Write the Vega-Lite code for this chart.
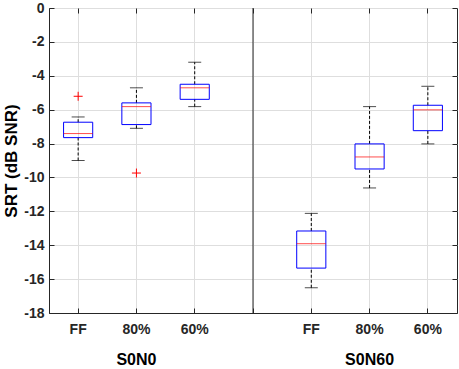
{
  "$schema": "https://vega.github.io/schema/vega-lite/v6.json",
  "autosize": {"type": "none"},
  "padding": {"left": 49, "top": 8, "right": 2, "bottom": 57},
  "width": 408,
  "height": 305,
  "background": "white",
  "config": {
    "view": {"stroke": "#262626", "strokeWidth": 1},
    "font": "Liberation Sans",
    "axis": {"labelFont": "Liberation Sans", "titleFont": "Liberation Sans", "labelColor": "#262626", "titleColor": "#000000", "domainColor": "#262626", "tickColor": "#262626", "gridColor": "#dedede", "gridOpacity": 1}
  },
  "datasets": {
    "stats": [
      {"key": "S0N0 FF", "lo": -9.0, "q1": -7.65, "med": -7.41, "q3": -6.74, "hi": -6.43},
      {"key": "S0N0 80%", "lo": -7.10, "q1": -6.88, "med": -5.82, "q3": -5.60, "hi": -4.71},
      {"key": "S0N0 60%", "lo": -5.82, "q1": -5.39, "med": -4.71, "q3": -4.50, "hi": -3.20},
      {"key": "S0N60 FF", "lo": -16.51, "q1": -15.35, "med": -13.91, "q3": -13.16, "hi": -12.12},
      {"key": "S0N60 80%", "lo": -10.62, "q1": -9.50, "med": -8.79, "q3": -8.02, "hi": -5.82},
      {"key": "S0N60 60%", "lo": -8.02, "q1": -7.24, "med": -6.01, "q3": -5.74, "hi": -4.62}
    ],
    "outliers": [
      {"key": "S0N0 FF", "v": -5.21},
      {"key": "S0N0 80%", "v": -9.74}
    ],
    "divider": [{"key": "gap"}]
  },
  "resolve": {"axis": {"x": "independent", "y": "independent"}},
  "layer": [
    {
      "data": {"name": "stats"},
      "mark": {"type": "rule", "color": "#000000", "strokeDash": [3, 2], "strokeWidth": 1},
      "encoding": {
        "x": {"field": "key", "type": "nominal", "bandPosition": 0.5,
          "scale": {"type": "band", "domain": ["S0N0 FF", "S0N0 80%", "S0N0 60%", "gap", "S0N60 FF", "S0N60 80%", "S0N60 60%"], "paddingInner": 0, "paddingOuter": 0},
          "axis": {"title": null, "orient": "bottom", "labelAngle": 0, "labelFontSize": 14, "labelFontWeight": "bold", "labelPadding": 14, "tickSize": -5, "grid": true, "labelExpr": "datum.value == 'gap' ? '' : split(datum.value, ' ')[1]"}},
        "y": {"field": "lo", "type": "quantitative",
          "scale": {"domain": [-18, 0], "nice": false, "zero": false},
          "axis": {"title": "SRT (dB SNR)", "titleFontSize": 17, "titleFontWeight": "bold", "titlePadding": 3, "labelFontSize": 14, "labelFontWeight": "bold", "labelPadding": 10, "tickSize": -5, "values": [-18, -16, -14, -12, -10, -8, -6, -4, -2, 0], "grid": true, "labelExpr": "'' + datum.value"}},
        "y2": {"field": "q1"}
      }
    },
    {
      "data": {"name": "stats"},
      "mark": {"type": "rule", "color": "#000000", "strokeDash": [3, 2], "strokeWidth": 1},
      "encoding": {
        "x": {"field": "key", "type": "nominal", "bandPosition": 0.5, "axis": null},
        "y": {"field": "q3", "type": "quantitative", "axis": null},
        "y2": {"field": "hi"}
      }
    },
    {
      "data": {"name": "stats"},
      "mark": {"type": "bar", "fill": null, "fillOpacity": 0, "stroke": "#0000ff", "strokeWidth": 1, "width": {"band": 0.5}},
      "encoding": {
        "x": {"field": "key", "type": "nominal",
          "axis": {"orient": "top", "title": null, "labels": false, "tickSize": -5, "domain": false, "grid": false}},
        "y": {"field": "q1", "type": "quantitative",
          "axis": {"orient": "right", "title": null, "labels": false, "tickSize": -5, "domain": false, "grid": false, "values": [-18, -16, -14, -12, -10, -8, -6, -4, -2, 0]}},
        "y2": {"field": "q3"}
      }
    },
    {
      "data": {"name": "stats"},
      "mark": {"type": "tick", "color": "#ff0000", "thickness": 1, "size": 29},
      "encoding": {
        "x": {"field": "key", "type": "nominal", "axis": null},
        "y": {"field": "med", "type": "quantitative", "axis": null}
      }
    },
    {
      "data": {"name": "stats"},
      "mark": {"type": "tick", "color": "#000000", "thickness": 1, "size": 13},
      "encoding": {
        "x": {"field": "key", "type": "nominal", "axis": null},
        "y": {"field": "lo", "type": "quantitative", "axis": null}
      }
    },
    {
      "data": {"name": "stats"},
      "mark": {"type": "tick", "color": "#000000", "thickness": 1, "size": 13},
      "encoding": {
        "x": {"field": "key", "type": "nominal", "axis": null},
        "y": {"field": "hi", "type": "quantitative", "axis": null}
      }
    },
    {
      "data": {"name": "outliers"},
      "mark": {"type": "point", "shape": "M-1,0L1,0M0,-1L0,1", "filled": false, "stroke": "#ff0000", "strokeWidth": 1, "size": 81, "opacity": 1},
      "encoding": {
        "x": {"field": "key", "type": "nominal", "axis": null},
        "y": {"field": "v", "type": "quantitative", "axis": null}
      }
    },
    {
      "data": {"name": "divider"},
      "mark": {"type": "rule", "color": "#262626", "strokeWidth": 1},
      "encoding": {
        "x": {"field": "key", "type": "nominal", "bandPosition": 0.5,
          "axis": {"orient": "bottom", "title": null, "offset": 0, "labelAngle": 0, "labelFontSize": 16, "labelFontWeight": "bold", "labelPadding": 38, "ticks": false, "domain": false, "grid": false, "labelColor": "#000000",
            "labelExpr": "datum.value == 'S0N0 80%' ? 'S0N0' : (datum.value == 'S0N60 80%' ? 'S0N60' : '')"}},
        "y": {"datum": -18, "type": "quantitative", "axis": null},
        "y2": {"datum": 0}
      }
    }
  ]
}
